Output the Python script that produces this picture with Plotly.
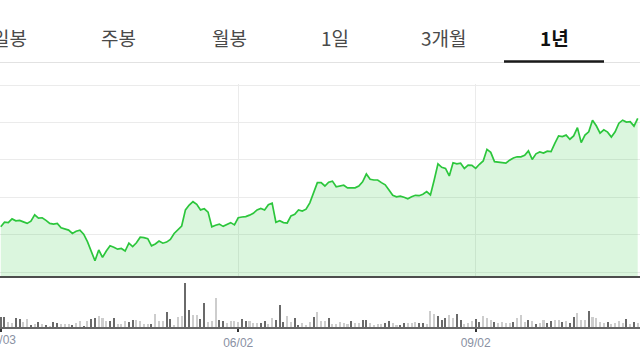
import plotly.graph_objects as go

# ---------------- data ----------------
tabs = ["일봉", "주봉", "월봉", "1일", "3개월", "1년"]
active_tab = "1년"

tick_idx = [0, 63, 126]
tick_labels = ["03/03", "06/02", "09/02"]

price = [
    62100, 63300, 63200, 64200, 63700, 63800, 63400, 63000, 63600, 65300,
    64400, 64500, 63800, 63000, 62800, 63000, 61800, 61500, 61200, 60300,
    60900, 61200, 60100, 58100, 55700, 53000, 55900, 53900, 55600, 57000,
    56600, 56100, 56300, 55600, 57700, 56800, 57800, 59300, 59200, 58900,
    57000, 57500, 58300,
    57700, 58000, 58700, 60300, 61300, 62300, 66600, 67900, 68800, 68100,
    66600, 66900, 66000, 62100, 62500, 62800, 62200, 62600, 63200, 62600,
    64500, 64700, 64800, 65200, 65700, 66600, 67000, 66600, 68000, 68400,
    63300, 63700, 63200, 63100, 65000, 65400, 66600, 66300, 66800, 68500,
    71200, 73900,
    73900, 73000, 74000, 74300, 72800, 73100, 73200, 72500, 72500, 72500,
    73000, 74100, 76200, 74800, 74600, 74600, 73900, 73300, 71900, 70500,
    70100, 70300, 70000, 69600, 70100, 70500, 70400, 70800, 71500, 70600,
    74600, 78900, 78000, 77700, 75700, 79200, 78900, 79100, 77700, 78600,
    78500, 77700, 78800,
    79700, 82800, 82000, 79500, 79400, 79200, 79100, 79900, 80500, 80800,
    80800, 81200, 82400, 80100, 81600, 82100, 81800, 82300, 82200, 84400,
    86400, 86200, 86600, 85500, 86400, 88600, 84600, 86600, 87500, 90600,
    89100, 87100, 88000, 87400, 86100, 87500, 89800, 90600, 90100, 90200,
    89000, 91100,
]

# volume in thousand shares
volume = [
    214, 214, 100, 94, 180, 174, 100, 160, 46, 60,
    114, 60, 40, 34, 100, 80, 60, 60, 60, 54,
    86, 120, 34, 120, 174, 194, 234, 180, 126, 120,
    194, 66, 66, 126, 100, 146, 146, 120, 74, 66,
    60, 260, 126, 134, 314, 174, 46, 214, 234, 880,
    346, 246, 240, 160, 480, 106, 134, 580, 146, 120,
    80, 126, 126, 114, 166, 126, 120, 86, 80, 94,
    134, 60, 186, 154, 446, 106, 234, 100, 186, 40,
    94, 54, 106, 214, 300,
    134, 134, 180, 60, 74, 114, 80, 74, 120, 86,
    94, 154, 154, 80, 54, 60, 60, 94, 134, 94,
    54, 40, 80, 86, 94, 100, 80, 94, 60, 326,
    266, 234, 146, 180, 240, 180, 260, 146, 60, 80,
    120, 160, 100, 234, 180, 154, 114, 80, 100, 94,
    86, 106, 180, 240, 100, 140, 120, 74, 94, 140,
    86, 134, 140, 140, 100, 134, 80, 200, 294, 146,
    146, 334, 200, 186, 100, 86, 106, 60, 94, 120,
    94, 160, 66, 114, 80,
]

# D = dark bar, L = light bar
vol_dir = list(
    "DDLLDDLLDL" "DLDLDDLLLD" "LLDLDDLLLD" "DLLLDDLLLL" "DLLLDDLLLD"
    "DLLDDLLLDD" "LLLLDDLLLD" "DLLDDDLLDD" "LLLDL"
    "LLDLLLLLDL" "LDDLLLLDDL" "LDDLLLDDLL" "LDDDLLDDLL" "LDDLLLDLLL"
    "LDLLLDLDLL" "DDLLDLDDLL" "LDLLLLDLLL" "LDLD" "L"
)

# ---------------- figure ----------------
W, H = 640, 360


def py(p):
    return 1 - p / H


n = min(len(volume), len(vol_dir))
x_price = list(range(len(price)))
x_vol = list(range(n))
bar_colors = ["#6a6a6a" if d == "D" else "#cdcdcd" for d in vol_dir[:n]]
bar_widths = [0.3 if d == "D" else 0.55 for d in vol_dir[:n]]

fig = go.Figure()
fig.add_trace(go.Scatter(
    x=x_price, y=price, mode="lines",
    line=dict(color="#2cc63c", width=1.7),
    fill="tozeroy", fillcolor="rgba(40,200,60,0.17)",
    xaxis="x", yaxis="y", hoverinfo="skip", showlegend=False,
))
fig.add_trace(go.Bar(
    x=x_vol, y=volume[:n],
    marker=dict(color=bar_colors, line=dict(width=0)),
    width=bar_widths,
    xaxis="x2", yaxis="y2", hoverinfo="skip", showlegend=False,
))

xr = [-0.2, 169.6]
tick_font = dict(family="Liberation Sans, Arial, sans-serif", size=12, color="#8a91a3")

fig.update_layout(
    width=W, height=H,
    margin=dict(l=0, r=0, t=0, b=0),
    paper_bgcolor="white", plot_bgcolor="white",
    font=dict(family="Liberation Sans, Arial, sans-serif"),
    xaxis=dict(
        domain=[0, 1], range=xr, anchor="y",
        tickvals=tick_idx, showticklabels=False, ticks="",
        showgrid=True, gridcolor="#ebebeb", gridwidth=1,
        zeroline=False, showline=True, linecolor="#4d4d4d", linewidth=2,
        fixedrange=True,
    ),
    yaxis=dict(
        domain=[py(276), py(84)], range=[48930, 100270],
        tickvals=[50000, 60000, 70000, 80000, 90000, 100000],
        showticklabels=False, showgrid=True, gridcolor="#ebebeb", gridwidth=1,
        zeroline=False, showline=False, fixedrange=True,
    ),
    xaxis2=dict(
        domain=[0, 1], range=xr, anchor="y2",
        tickvals=tick_idx, ticktext=tick_labels,
        ticks="outside", ticklen=3, tickwidth=1.5, tickcolor="#333",
        tickfont=tick_font,
        showgrid=False, zeroline=False,
        showline=True, linecolor="#666666", linewidth=2, fixedrange=True,
    ),
    yaxis2=dict(
        domain=[py(327.3), py(281)], range=[0, 926],
        showticklabels=False, showgrid=False, zeroline=False,
        showline=False, fixedrange=True,
    ),
    bargap=0,
)

# first date label sits on the left edge; plotly drops it, so draw it as text
fig.add_annotation(
    x=tick_idx[0], y=py(340), xref="x2", yref="paper",
    text=tick_labels[0], showarrow=False, xanchor="center", yanchor="middle",
    font=tick_font,
)

# tab bar
tab_centers = [9, 118, 229, 335, 444, 554]
for label, cx in zip(tabs, tab_centers):
    active = label == active_tab
    fig.add_annotation(
        x=cx / W, y=py(38), xref="paper", yref="paper",
        text=f"<b>{label}</b>" if active else label,
        showarrow=False, xanchor="center", yanchor="middle",
        font=dict(family="Noto Sans CJK KR, sans-serif", size=19,
                  color="#111111" if active else "#4a4a4a"),
    )

fig.add_shape(type="line", xref="paper", yref="paper",
              x0=0, x1=1, y0=py(62.5), y1=py(62.5),
              line=dict(color="#e2e2e2", width=1))
fig.add_shape(type="line", xref="paper", yref="paper",
              x0=504 / W, x1=604 / W, y0=py(61.5), y1=py(61.5),
              line=dict(color="#1a1a1a", width=2.5))

fig.write_html("out.html", config={"displayModeBar": False})
